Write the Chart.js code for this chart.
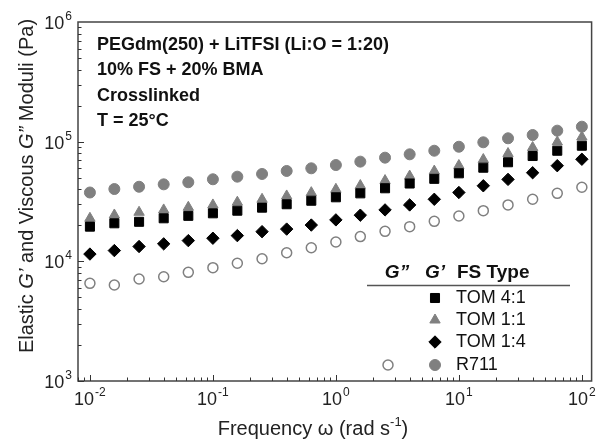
<!DOCTYPE html>
<html>
<head>
<meta charset="utf-8">
<script src="https://cdn.jsdelivr.net/npm/chart.js@4.4.1/dist/chart.umd.min.js"></script>
<style>
  html, body { margin: 0; padding: 0; background: #fff; }
  canvas { display: block; }
</style>
</head>
<body>
<canvas id="modChart" width="599" height="443"></canvas>
<script>
// frequency (rad/s), 5 points per decade
const freq = [0.01, 0.0158, 0.0251, 0.0398, 0.0631, 0.1, 0.158, 0.251, 0.398, 0.631,
  1, 1.58, 2.51, 3.98, 6.31, 10, 15.8, 25.1, 39.8, 63.1, 100];

// G' (elastic) per FS type
const tom41G1 = [19500, 20800, 21400, 22900, 24000, 25200, 26500, 28100, 30000, 32100,
  34300, 37000, 40800, 44700, 48900, 54400, 60600, 67300, 75900, 84000, 92500];
const tom11G1 = [22900, 24400, 25700, 26900, 28300, 29600, 31200, 33000, 35200, 37500,
  40000, 43000, 47300, 51600, 56800, 63200, 70900, 79600, 89400, 99400, 109400];
const tom14G1 = [11500, 12300, 13300, 14000, 14900, 15600, 16400, 17700, 18600, 20100,
  22200, 24300, 26900, 29600, 33000, 37600, 42800, 48400, 55000, 63000, 71300];
const r711G1 = [37600, 40200, 42000, 44000, 45800, 48500, 51000, 53700, 56900, 59900,
  63800, 68100, 73500, 78400, 84000, 90700, 98800, 106700, 113700, 123600, 133400];
// G'' (viscous), R711 only
const r711G2 = [6550, 6340, 7120, 7440, 8090, 8850, 9630, 10500, 11800, 13000,
  14500, 16100, 17800, 19500, 21600, 23900, 26500, 29600, 33000, 37000, 41600];

const xMajor = [0.01, 0.1, 1, 10, 100];
const yMajor = [1e3, 1e4, 1e5, 1e6];
const xExp = ['-2', '-1', '0', '1', '2'];
const yExp = ['3', '4', '5', '6'];

const notes = ['PEGdm(250) + LiTFSI (Li:O = 1:20)', '10% FS + 20% BMA', 'Crosslinked', 'T = 25\u00B0C'];
const legendRows = ['TOM 4:1', 'TOM 1:1', 'TOM 1:4', 'R711'];

const GRAY = '#808080';
const FONT = '"Liberation Sans", Arial, sans-serif';

const pts = arr => arr.map((y, i) => ({ x: freq[i], y }));

// "10" with a raised exponent; align = 'center' or 'right'
function powerLabel(ctx, exp, x, y, align) {
  ctx.font = '18px ' + FONT;
  const wb = ctx.measureText('10').width;
  ctx.font = '12px ' + FONT;
  const we = ctx.measureText(exp).width;
  const start = align === 'right' ? x - wb - we - 1 : x - (wb + we + 1) / 2;
  ctx.font = '18px ' + FONT;
  ctx.fillText('10', start, y);
  ctx.font = '12px ' + FONT;
  ctx.fillText(exp, start + wb + 1, y - 9);
}

const frame = {
  id: 'frame',
  afterDraw(chart) {
    const { ctx, chartArea: a } = chart;
    const xs = chart.scales.x, ys = chart.scales.y;
    ctx.save();
    ctx.strokeStyle = '#444';
    ctx.lineWidth = 1.5;
    ctx.strokeRect(a.left, a.top, a.right - a.left, a.bottom - a.top);

    // inward ticks, left and bottom only
    ctx.lineWidth = 1;
    ctx.strokeStyle = '#333';
    ctx.beginPath();
    for (let d = 3; d <= 5; d++) {
      for (let m = 1; m <= 9; m++) {
        const py = Math.round(ys.getPixelForValue(m * Math.pow(10, d))) + 0.5;
        ctx.moveTo(a.left, py);
        ctx.lineTo(a.left + (m === 1 ? 6 : 3.5), py);
      }
    }
    for (let d = -3; d <= 2; d++) {
      for (let m = 1; m <= 9; m++) {
        const v = m * Math.pow(10, d);
        if (v < xs.min || v > xs.max) continue;
        const px = Math.round(xs.getPixelForValue(v)) + 0.5;
        ctx.moveTo(px, a.bottom);
        ctx.lineTo(px, a.bottom - (m === 1 ? 6 : 3.5));
      }
    }
    ctx.stroke();

    // tick labels
    ctx.fillStyle = '#222';
    ctx.textBaseline = 'alphabetic';
    ctx.textAlign = 'left';
    xMajor.forEach((v, i) => powerLabel(ctx, xExp[i], xs.getPixelForValue(v), 405, 'center'));
    yMajor.forEach((v, i) => powerLabel(ctx, yExp[i], 72, ys.getPixelForValue(v) + 7, 'right'));

    // annotation block
    ctx.fillStyle = '#111';
    ctx.font = 'bold 18px ' + FONT;
    ctx.textBaseline = 'middle';
    [45, 70, 96.5, 121.5].forEach((y, i) => ctx.fillText(notes[i], 97, y));

    // legend table
    ctx.font = 'italic bold 19px ' + FONT;
    ctx.textAlign = 'center';
    ctx.fillText('G\u201D', 397, 273);
    ctx.fillText('G\u2019', 435, 273);
    ctx.font = 'bold 19px ' + FONT;
    ctx.textAlign = 'left';
    ctx.fillText('FS Type', 457, 273);
    ctx.strokeStyle = '#555';
    ctx.lineWidth = 1.5;
    ctx.beginPath();
    ctx.moveTo(367, 285.5);
    ctx.lineTo(570, 285.5);
    ctx.stroke();

    ctx.font = '18px ' + FONT;
    const rowY = [298, 320, 342, 365];
    const marks = [
      { style: 'rect', r: 6.4, fill: '#000' },
      { style: 'triangle', r: 6, fill: GRAY },
      { style: 'rectRot', r: 6.2, fill: '#000' },
      { style: 'circle', r: 5.5, fill: GRAY }
    ];
    rowY.forEach((y, i) => {
      ctx.fillStyle = '#111';
      ctx.fillText(legendRows[i], 456, y);
      ctx.fillStyle = marks[i].fill;
      ctx.strokeStyle = marks[i].fill;
      ctx.lineWidth = 1;
      Chart.helpers.drawPoint(ctx, { pointStyle: marks[i].style, radius: marks[i].r, borderWidth: 1 }, 435, y);
    });
    ctx.fillStyle = '#fff';
    ctx.strokeStyle = GRAY;
    ctx.lineWidth = 1.5;
    Chart.helpers.drawPoint(ctx, { pointStyle: 'circle', radius: 5, borderWidth: 1.5 }, 388, 365);

    // axis titles
    ctx.fillStyle = '#222';
    ctx.textBaseline = 'alphabetic';
    ctx.save();
    ctx.translate(33, 186);
    ctx.rotate(-Math.PI / 2);
    const parts = [['Elastic ', false], ['G\u2019', true], [' and Viscous ', false], ['G\u201D', true], [' Moduli (Pa)', false]];
    let total = 0;
    parts.forEach(p => { ctx.font = (p[1] ? 'italic ' : '') + '20px ' + FONT; p.w = ctx.measureText(p[0]).width; total += p.w; });
    let cx = -total / 2;
    parts.forEach(p => { ctx.font = (p[1] ? 'italic ' : '') + '20px ' + FONT; ctx.fillText(p[0], cx, 0); cx += p.w; });
    ctx.restore();

    ctx.font = '20px ' + FONT;
    const t1 = 'Frequency \u03C9 (rad s', t2 = '-1', t3 = ')';
    const w1 = ctx.measureText(t1).width, w3 = ctx.measureText(t3).width;
    ctx.font = '13px ' + FONT;
    const w2 = ctx.measureText(t2).width;
    const sx = 313 - (w1 + w2 + w3) / 2;
    const by = 435;
    ctx.font = '20px ' + FONT;
    ctx.fillText(t1, sx, by);
    ctx.font = '13px ' + FONT;
    ctx.fillText(t2, sx + w1, by - 9);
    ctx.font = '20px ' + FONT;
    ctx.fillText(t3, sx + w1 + w2, by);
    ctx.restore();
  }
};

new Chart(document.getElementById('modChart'), {
  type: 'scatter',
  data: {
    datasets: [
      { label: "TOM 1:1 G'", data: pts(tom11G1), pointStyle: 'triangle', pointRadius: 6,
        backgroundColor: GRAY, borderColor: GRAY, borderWidth: 1, order: 4 },
      { label: "TOM 4:1 G'", data: pts(tom41G1), pointStyle: 'rect', pointRadius: 6.4,
        backgroundColor: '#000', borderColor: '#000', borderWidth: 1, order: 3 },
      { label: "TOM 1:4 G'", data: pts(tom14G1), pointStyle: 'rectRot', pointRadius: 6.2,
        backgroundColor: '#000', borderColor: '#000', borderWidth: 1, order: 2 },
      { label: "R711 G''", data: pts(r711G2), pointStyle: 'circle', pointRadius: 5,
        backgroundColor: '#fff', borderColor: GRAY, borderWidth: 1.5, order: 2 },
      { label: "R711 G'", data: pts(r711G1), pointStyle: 'circle', pointRadius: 5.5,
        backgroundColor: GRAY, borderColor: GRAY, borderWidth: 1, order: 1 }
    ]
  },
  options: {
    responsive: false,
    animation: false,
    devicePixelRatio: 1,
    layout: { padding: { top: 22, right: 6, left: 0, bottom: 0 } },
    plugins: { legend: { display: false }, tooltip: { enabled: false } },
    scales: {
      x: {
        type: 'logarithmic',
        min: 0.008,
        max: 120,
        afterBuildTicks: s => { s.ticks = xMajor.map(v => ({ value: v, major: true })); },
        afterFit: s => { s.height = 62; },
        grid: { display: false, drawTicks: false },
        border: { display: false },
        ticks: { display: false }
      },
      y: {
        type: 'logarithmic',
        min: 1e3,
        max: 1e6,
        afterBuildTicks: s => { s.ticks = yMajor.map(v => ({ value: v, major: true })); },
        afterFit: s => { s.width = 78; },
        grid: { display: false, drawTicks: false },
        border: { display: false },
        ticks: { display: false }
      }
    }
  },
  plugins: [frame]
});
</script>
</body>
</html>
